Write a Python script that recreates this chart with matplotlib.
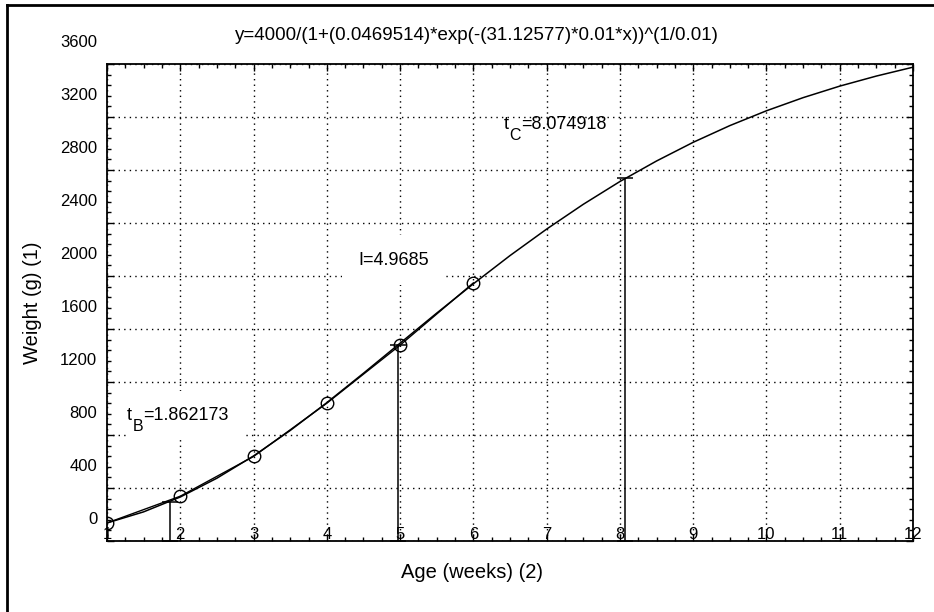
import matplotlib
matplotlib.use("Agg")
import matplotlib.pyplot as plt
from matplotlib.ticker import MultipleLocator, FixedLocator
from matplotlib.transforms import ScaledTranslation
from matplotlib.lines import Line2D

plt.rcParams['font.family'] = ['Liberation Sans', 'DejaVu Sans']

# observed weights (circles)
weeks = [1, 2, 3, 4, 5, 6]
weight = [136, 338, 638, 1040, 1478, 1948]

# fitted growth curve, every half week
curve_x = [1, 1.5, 2, 2.5, 3, 3.5, 4, 4.5, 5, 5.5, 6, 6.5, 7, 7.5, 8, 8.5,
           9, 9.5, 10, 10.5, 11, 11.5, 12]
curve_y = [136, 220, 332, 474, 642, 834, 1044, 1266, 1493, 1720, 1941, 2154,
           2354, 2541, 2713, 2868, 3009, 3135, 3247, 3346, 3433, 3509, 3576]

# special points: t_B, inflection I, t_C
mark_names = ['B', None, 'C']
mark_x = [1.862173, 4.9685, 8.074918]
mark_y = [297, 1476, 2740]

title = "y=4000/(1+(0.0469514)*exp(-(31.12577)*0.01*x))^(1/0.01)"
yticks = [0, 400, 800, 1200, 1600, 2000, 2400, 2800, 3200, 3600]
xticks = [1, 2, 3, 4, 5, 6, 7, 8, 9, 10, 11, 12]

fig = plt.figure(figsize=(9.34, 6.12), dpi=100)
ax = fig.add_axes([107/934, 1-541/612, (913-107)/934, (541-64)/612])

ax.plot(curve_x, curve_y, color='black', lw=1.1, zorder=3)
ax.plot(weeks, weight, color='black', lw=1.0, marker='o', ms=9,
        mfc='none', mec='black', mew=1.0, zorder=3)

# vertical lines with caps
ax.vlines(mark_x, 0, mark_y, color='black', lw=1.1, zorder=3)
ax.plot(mark_x, mark_y, ls='none', marker='_', ms=11, mew=1.1,
        color='black', clip_on=False, zorder=3)
ax.plot(mark_x, [0] * len(mark_x), ls='none', marker='_', ms=11, mew=1.1,
        color='black', clip_on=False, zorder=3)

ax.set_xlim(1, 12)
ax.set_ylim(0, 3600)
ax.xaxis.set_major_locator(FixedLocator(xticks))
ax.yaxis.set_major_locator(FixedLocator(yticks))
ax.set_xticklabels([str(t) for t in xticks])
ax.set_yticklabels([str(t) for t in yticks])
ax.xaxis.set_minor_locator(MultipleLocator(0.25))
ax.yaxis.set_minor_locator(MultipleLocator(80))

ax.tick_params(which='both', direction='in', top=True, right=True,
               labelsize=12, colors='black')
ax.tick_params(which='major', length=5, width=1)
ax.tick_params(which='minor', length=3, width=1)
ax.tick_params(axis='x', which='major', pad=-10)
ax.tick_params(axis='y', which='major', pad=7)
for s in ax.spines.values():
    s.set_linewidth(1.3)
    s.set_color('black')

ax.set_axisbelow(True)
ax.grid(True, which='major', color='black', lw=1.0, linestyle=(0, (1, 3)))

# y tick labels sit above their ticks in the original
shift = ScaledTranslation(0, 23/100, fig.dpi_scale_trans)
for lab in ax.get_yticklabels():
    lab.set_transform(lab.get_transform() + shift)

box = dict(boxstyle='square,pad=0.9', fc='white', ec='none')


def sub_label(x, y, sub, rest, boxed):
    ax.annotate(rest, (x, y), xytext=(12, 0), textcoords='offset points',
                fontsize=13, ha='left', va='baseline',
                bbox=box if boxed else None, zorder=4)
    ax.text(x, y, 't', fontsize=13, ha='left', va='baseline', zorder=5)
    ax.annotate(sub, (x, y), xytext=(4, -8), textcoords='offset points',
                fontsize=11.5, ha='left', va='baseline', zorder=5)


sub_label(1.27, 915, mark_names[0], '=%.6f' % mark_x[0], True)
ax.text(4.43, 2086, 'I=%.4f' % mark_x[1], fontsize=13, ha='left',
        va='baseline', bbox=box, zorder=4)
sub_label(6.42, 3110, mark_names[2], '=%.6f' % mark_x[2], False)

fig.text(477/934, 1-36/612, title, fontsize=13.5, ha='center', va='center')
fig.text(472/934, 1-573/612, "Age (weeks) (2)", fontsize=14.5, ha='center',
         va='center')
fig.text(33/934, 1-303/612, "Weight (g) (1)", fontsize=14.5, ha='center',
         va='center', rotation=90)

# outer frame (left and top edges visible)
fig.add_artist(Line2D([7/934, 7/934], [0, 1-5/612], transform=fig.transFigure,
                      color='black', lw=2))
fig.add_artist(Line2D([7/934, 1], [1-5/612, 1-5/612], transform=fig.transFigure,
                      color='black', lw=2))

fig.savefig("out.png", dpi=100)
